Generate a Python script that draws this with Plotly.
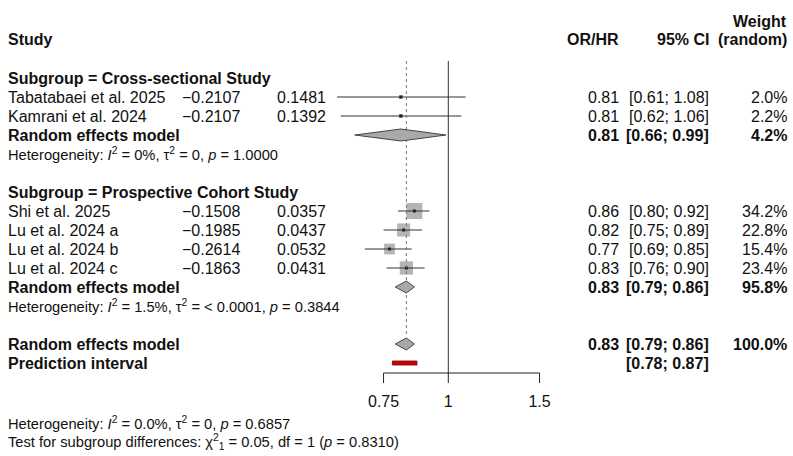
import numpy as np
import plotly.graph_objects as go

# ---------------- data ----------------
studies = ["Tabatabaei et al. 2025", "Kamrani et al. 2024", "Shi et al. 2025",
           "Lu et al. 2024 a", "Lu et al. 2024 b", "Lu et al. 2024 c"]
study_group = [0, 0, 1, 1, 1, 1]
te = [-0.2107, -0.2107, -0.1508, -0.1985, -0.2614, -0.1863]
se_te = [0.1481, 0.1392, 0.0357, 0.0437, 0.0532, 0.0431]
est = [0.81, 0.81, 0.86, 0.82, 0.77, 0.83]
ci_lo = [0.61, 0.62, 0.80, 0.75, 0.69, 0.76]
ci_hi = [1.08, 1.06, 0.92, 0.89, 0.85, 0.90]
weights = [2.0, 2.2, 34.2, 22.8, 15.4, 23.4]

groups = ["Cross-sectional Study", "Prospective Cohort Study"]
grp_est = [0.81, 0.83]
grp_lo = [0.66, 0.79]
grp_hi = [0.99, 0.86]
grp_w = [4.2, 95.8]
grp_het = ["Heterogeneity: <i>I</i><sup>2</sup> = 0%, τ<sup>2</sup> = 0, <i>p</i> = 1.0000",
           "Heterogeneity: <i>I</i><sup>2</sup> = 1.5%, τ<sup>2</sup> = < 0.0001, <i>p</i> = 0.3844"]

overall_est, overall_lo, overall_hi, overall_w = 0.83, 0.79, 0.86, 100.0
pi_lo, pi_hi = 0.78, 0.87
overall_het = "Heterogeneity: <i>I</i><sup>2</sup> = 0.0%, τ<sup>2</sup> = 0, <i>p</i> = 0.6857"
subgroup_test = "Test for subgroup differences: χ<sup>2</sup><sub>1</sub> = 0.05, df = 1 (<i>p</i> = 0.8310)"

tick_vals = [0.75, 1, 1.5]
tick_text = ["0.75", "1", "1.5"]

# ---------------- layout constants ----------------
W, H = 793, 456
ROW0, STEP = 40, 19
def row_y(r):
    return ROW0 + STEP * r

PX_PER_DEC = 518.2
PX_AT_1 = 448.3
DOM = (300, 600)
x_range = [(DOM[0] - PX_AT_1) / PX_PER_DEC, (DOM[1] - PX_AT_1) / PX_PER_DEC]

FONT = "Liberation Sans, Arial, Helvetica, sans-serif"
FS = 16
FS_SMALL = 14.7
TXT = "#111111"

X_STUDY, X_TE, X_SE, X_OR, X_CI, X_W = 8, 240, 326, 619, 709, 787

annotations = []
def txt(x, y, s, anchor="left", bold=False, size=FS):
    if bold:
        s = "<b>" + s + "</b>"
    annotations.append(dict(x=x / W, y=y, xref="paper", yref="y", text=s,
                            showarrow=False, xanchor=anchor, yanchor="middle",
                            borderpad=0, borderwidth=0,
                            font=dict(family=FONT, size=size, color=TXT)))

def fmt_num(v, d):
    return f"{v:.{d}f}".replace("-", "−")

fig = go.Figure()

# headers
txt(X_STUDY, row_y(0) - 1, "Study", bold=True)
txt(X_OR, row_y(0) - 1, "OR/HR", "right", bold=True)
txt(X_CI, row_y(0) - 1, "95% CI", "right", bold=True)
txt(X_W, row_y(-1), "Weight", "right", bold=True)
txt(X_W, row_y(0) - 1, "(random)", "right", bold=True)

SQ_K = 2.74
r = 2
diamonds = []
for g, gname in enumerate(groups):
    txt(X_STUDY, row_y(r), "Subgroup = " + gname, bold=True)
    r += 1
    for i in range(len(studies)):
        if study_group[i] != g:
            continue
        y = row_y(r)
        txt(X_STUDY, y, studies[i])
        txt(X_TE, y, fmt_num(te[i], 4), "right")
        txt(X_SE, y, fmt_num(se_te[i], 4), "right")
        txt(X_OR, y, fmt_num(est[i], 2), "right")
        txt(X_CI, y, f"[{ci_lo[i]:.2f}; {ci_hi[i]:.2f}]", "right")
        txt(X_W, y, f"{weights[i]:.1f}%", "right")
        # square
        fig.add_trace(go.Scatter(x=[est[i]], y=[y], mode="markers",
                                 marker=dict(symbol="square", size=SQ_K * np.sqrt(weights[i]),
                                             color="#b5b5b5", line=dict(width=0))))
        # CI line over the square
        fig.add_trace(go.Scatter(x=[ci_lo[i], ci_hi[i]], y=[y, y], mode="lines",
                                 line=dict(color="#333333", width=1)))
        fig.add_trace(go.Scatter(x=[est[i]], y=[y], mode="markers",
                                 marker=dict(symbol="square", size=3, color="#222222")))
        r += 1
    y = row_y(r)
    txt(X_STUDY, y, "Random effects model", bold=True)
    txt(X_OR, y, fmt_num(grp_est[g], 2), "right", bold=True)
    txt(X_CI, y, f"[{grp_lo[g]:.2f}; {grp_hi[g]:.2f}]", "right", bold=True)
    txt(X_W, y, f"{grp_w[g]:.1f}%", "right", bold=True)
    diamonds.append((grp_lo[g], grp_est[g], grp_hi[g], y))
    r += 1
    txt(X_STUDY, row_y(r), grp_het[g], size=FS_SMALL)
    r += 2

# overall
y_over = row_y(r)
txt(X_STUDY, y_over, "Random effects model", bold=True)
txt(X_OR, y_over, fmt_num(overall_est, 2), "right", bold=True)
txt(X_CI, y_over, f"[{overall_lo:.2f}; {overall_hi:.2f}]", "right", bold=True)
txt(X_W, y_over, f"{overall_w:.1f}%", "right", bold=True)
diamonds.append((overall_lo, overall_est, overall_hi, y_over))
r += 1
y_pi = row_y(r)
txt(X_STUDY, y_pi, "Prediction interval", bold=True)
txt(X_CI, y_pi, f"[{pi_lo:.2f}; {pi_hi:.2f}]", "right", bold=True)

# reference lines
y_top = row_y(1) + 2
y_axis = y_pi + 10
fig.add_trace(go.Scatter(x=[overall_est, overall_est], y=[y_top, y_over - 7], mode="lines",
                         line=dict(color="#777777", width=1, dash="dot")))
fig.add_trace(go.Scatter(x=[1, 1], y=[y_top, y_axis], mode="lines",
                         line=dict(color="#333333", width=1)))

# diamonds
DH = 6
for lo, e, hi, y in diamonds:
    fig.add_trace(go.Scatter(x=[lo, e, hi, e, lo], y=[y, y - DH, y, y + DH, y],
                             mode="lines", fill="toself", fillcolor="#a9a9a9",
                             line=dict(color="#444444", width=1)))

# prediction interval bar
fig.add_trace(go.Scatter(x=[pi_lo, pi_hi, pi_hi, pi_lo, pi_lo],
                         y=[y_pi - 2, y_pi - 2, y_pi + 2, y_pi + 2, y_pi - 2],
                         mode="lines", fill="toself", fillcolor="#d40000",
                         line=dict(color="#7a0000", width=0.8)))

# x axis drawn manually
fig.add_trace(go.Scatter(x=[tick_vals[0], tick_vals[-1]], y=[y_axis, y_axis], mode="lines",
                         line=dict(color="#222222", width=1)))
for t in tick_vals:
    fig.add_trace(go.Scatter(x=[t, t], y=[y_axis, y_axis + 10], mode="lines",
                             line=dict(color="#222222", width=1)))
fig.add_trace(go.Scatter(x=tick_vals, y=[y_axis + 30] * len(tick_vals), mode="text",
                         text=tick_text, textposition="middle center",
                         textfont=dict(family=FONT, size=FS, color=TXT)))

txt(X_STUDY, y_axis + 50, overall_het, size=FS_SMALL)
txt(X_STUDY, y_axis + 69, subgroup_test, size=FS_SMALL)

fig.update_layout(
    width=W, height=H, autosize=False,
    margin=dict(l=0, r=0, t=0, b=0),
    paper_bgcolor="white", plot_bgcolor="white",
    showlegend=False, hovermode=False,
    xaxis=dict(type="log", range=x_range, domain=[DOM[0] / W, DOM[1] / W],
               visible=False, fixedrange=True),
    yaxis=dict(range=[H, 0], domain=[0, 1], visible=False, fixedrange=True),
    annotations=annotations,
)

fig.write_html("out.html", config={"displayModeBar": False, "staticPlot": True})
